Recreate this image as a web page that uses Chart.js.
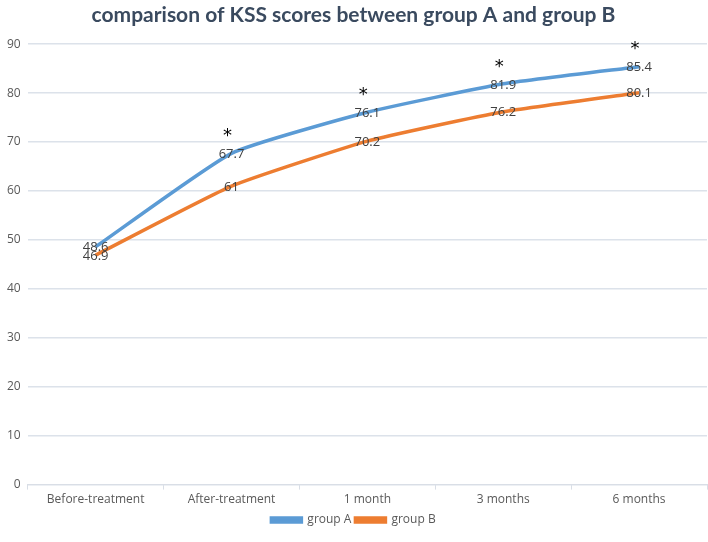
<!DOCTYPE html>
<html>
<head>
<meta charset="utf-8">
<script src="https://cdn.jsdelivr.net/npm/chart.js@4/dist/chart.umd.min.js"></script>
<style>
html,body{margin:0;padding:0;background:#fff;}
#wrap{width:708px;height:542px;position:relative;}
</style>
</head>
<body>
<div id="wrap"><canvas id="c" width="708" height="542"></canvas></div>
<script>
const categories = ["Before-treatment", "After-treatment", "1 month", "3 months", "6 months"];
const groupA = [48.6, 67.7, 76.1, 81.9, 85.4];
const groupB = [46.9, 61, 70.2, 76.2, 80.1];
const significant = [false, true, true, true, true];
const yTicks = [0, 10, 20, 30, 40, 50, 60, 70, 80, 90];

const labelPlugin = {
  id: 'labelPlugin',
  afterDatasetsDraw(chart) {
    const ctx = chart.ctx;
    ctx.save();
    ctx.textAlign = 'center';
    ctx.textBaseline = 'middle';
    ctx.font = '13px "Open Sans", sans-serif';
    ctx.fillStyle = '#404040';
    chart.data.datasets.forEach((ds, di) => {
      const meta = chart.getDatasetMeta(di);
      meta.data.forEach((pt, i) => {
        ctx.fillText(String(ds.data[i]), pt.x, pt.y + 1);
      });
    });
    const metaA = chart.getDatasetMeta(0);
    ctx.font = '18px "DejaVu Sans", sans-serif';
    ctx.fillStyle = '#000';
    metaA.data.forEach((pt, i) => {
      if (significant[i]) ctx.fillText('*', pt.x - 4, pt.y - 17);
    });
    ctx.restore();
  }
};

new Chart(document.getElementById('c'), {
  type: 'line',
  data: {
    labels: categories,
    datasets: [
      { label: 'group A', data: groupA, borderColor: '#5B9BD5', backgroundColor: '#5B9BD5', borderWidth: 3.5, pointRadius: 0, tension: 0.15 },
      { label: 'group B', data: groupB, borderColor: '#ED7D31', backgroundColor: '#ED7D31', borderWidth: 3.5, pointRadius: 0, tension: 0.15 }
    ]
  },
  options: {
    responsive: false,
    animation: false,
    layout: { padding: { left: 0, right: 1, top: 0, bottom: 6 } },
    plugins: {
      title: { display: true, text: 'comparison of KSS scores between group A and group B', color: '#3A4A5F', font: { family: 'Lato', size: 21, weight: 'bold' }, padding: { top: 3, bottom: 16 } },
      legend: { position: 'bottom', labels: { boxWidth: 30, boxHeight: 4, color: '#595959', font: { family: '"Open Sans"', size: 12 }, padding: 4 } },
      tooltip: { enabled: false }
    },
    scales: {
      x: {
        offset: true,
        grid: { offset: true, drawOnChartArea: false, drawTicks: true, tickLength: 5, color: '#D9DEE6' },
        border: { color: '#D9DEE6' },
        ticks: { color: '#595959', font: { family: '"Open Sans"', size: 12 }, padding: 3 }
      },
      y: {
        min: 0, max: 90,
        afterBuildTicks(axis) { axis.ticks = yTicks.map(v => ({ value: v })); },
        grid: { color: '#DCE2EA', lineWidth: 1.5, drawTicks: false },
        border: { display: false },
        ticks: { color: '#595959', font: { family: '"Open Sans"', size: 12 }, padding: 7 }
      }
    }
  },
  plugins: [labelPlugin]
});
</script>
</body>
</html>
